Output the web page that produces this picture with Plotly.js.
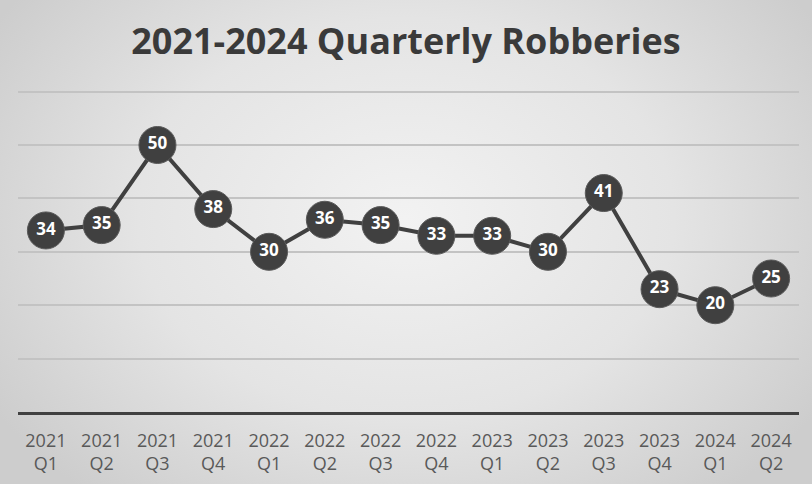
<!DOCTYPE html>
<html>
<head>
<meta charset="utf-8">
<script src="https://cdn.plot.ly/plotly-3.0.1.min.js"></script>
<style>
html,body{margin:0;padding:0;}
#chart{width:812px;height:484px;background:radial-gradient(ellipse 60% 75% at 50% 45%, #f2f2f2 0%, #e4e4e4 55%, #cdcdcd 100%);}
</style>
</head>
<body>
<div id="chart"></div>
<script>
const years = ["2021","2021","2021","2021","2022","2022","2022","2022","2023","2023","2023","2023","2024","2024"];
const quarters = ["Q1","Q2","Q3","Q4","Q1","Q2","Q3","Q4","Q1","Q2","Q3","Q4","Q1","Q2"];
const robberies = [34,35,50,38,30,36,35,33,33,30,41,23,20,25];
const categories = years.map((y,i)=> y + "<br>" + quarters[i]);

const trace = {
  x: categories,
  y: robberies,
  type: "scatter",
  mode: "lines+markers+text",
  text: robberies.map(String),
  textposition: "middle center",
  textfont: {family: "Open Sans", size: 17, color: "#ffffff", weight: "bold"},
  line: {color: "#404040", width: 4},
  marker: {size: 37, color: "#404040", line: {color: "#5a5a5a", width: 1}},
  hoverinfo: "none",
  cliponaxis: false
};

const layout = {
  width: 812, height: 484,
  margin: {l: 18, r: 13, t: 90, b: 72},
  paper_bgcolor: "rgba(0,0,0,0)",
  plot_bgcolor: "rgba(0,0,0,0)",
  showlegend: false,
  title: {text: "2021-2024 Quarterly Robberies", font: {family: "Open Sans", size: 36, color: "#3a3a3a", weight: "bold"}, x: 0.5, xanchor: "center", y: 0.915, yanchor: "middle"},
  xaxis: {
    type: "category",
    range: [-0.5, 13.5],
    showline: true, linecolor: "#404040", linewidth: 3,
    showgrid: false, zeroline: false, ticks: "",
    ticklabelstandoff: 10,
    tickfont: {family: "Open Sans", size: 18, color: "#595959"},
    fixedrange: true
  },
  yaxis: {
    range: [0, 60.3], dtick: 10, tick0: 0,
    showgrid: true, gridcolor: "#c3c3c3", gridwidth: 2,
    showticklabels: false, zeroline: false, showline: false, ticks: "",
    fixedrange: true
  }
};

Plotly.newPlot("chart", [trace], layout, {displayModeBar: false, staticPlot: true});
</script>
</body>
</html>
